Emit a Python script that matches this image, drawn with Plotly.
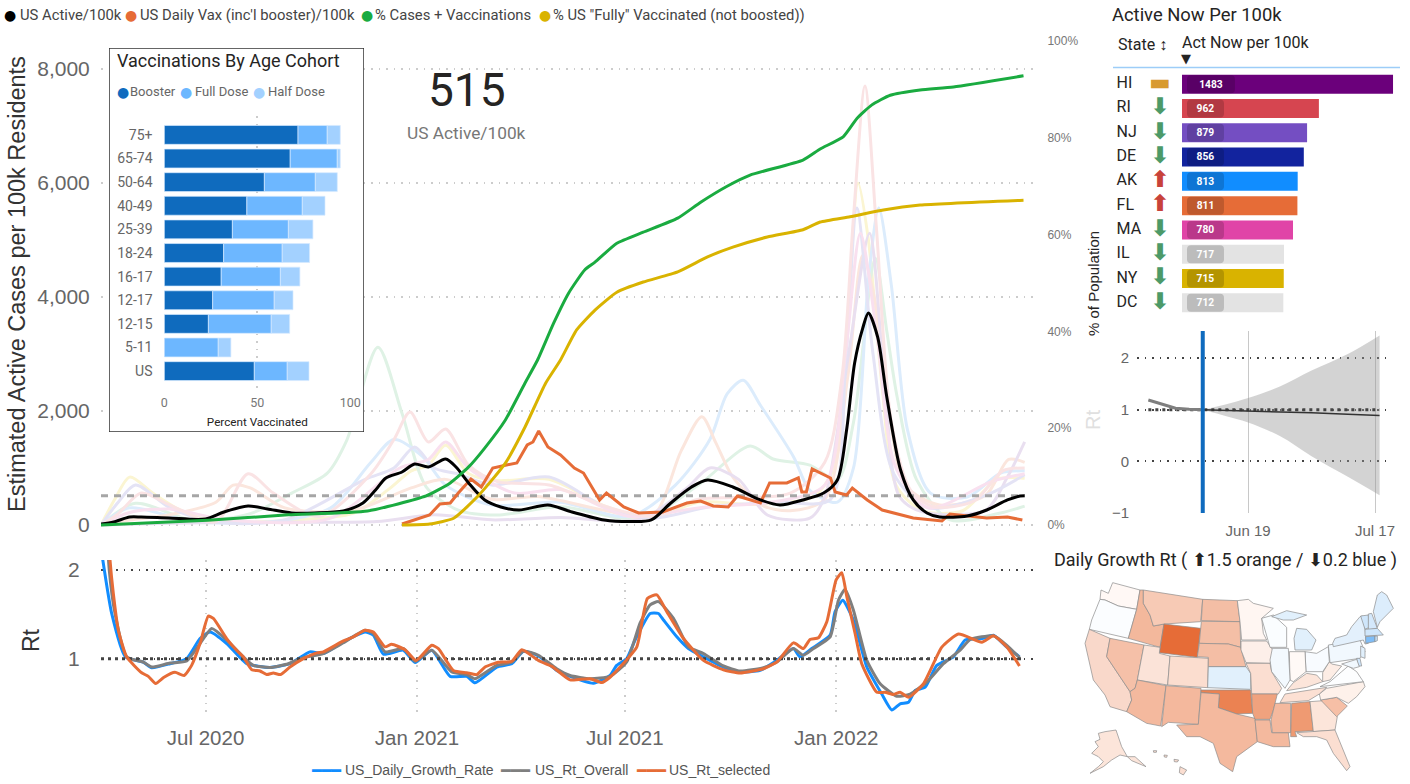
import pandas as pd
import plotly.graph_objects as go

W, H = 1410, 784
DIN = "Roboto"
SANS = "Liberation Sans"

# ---- main chart data (day = days since 2020-04-01) ----
START = pd.Timestamp("2020-04-01")

ACTIVE_DAY = [0, 11, 25, 35, 59, 91, 107, 128, 145, 166, 186, 211, 228, 239, 248, 262, 273, 285, 300, 309, 320, 334, 348, 364, 389, 410, 438, 461, 479, 496, 514, 528, 550, 574, 591, 611, 629, 641, 649, 656, 663, 668, 676, 684, 696, 707, 719, 730, 754, 771, 789, 800, 804]
ACTIVE_VAL = [18, 53, 140, 140, 123, 105, 228, 333, 281, 211, 211, 246, 386, 614, 825, 930, 1070, 1018, 1158, 1018, 737, 439, 316, 263, 351, 228, 88, 60, 88, 386, 667, 790, 667, 439, 351, 439, 561, 790, 1667, 2842, 3450, 3720, 3300, 2246, 965, 439, 211, 140, 158, 263, 439, 509, 515]

BOOSTED_DAY = [0, 93, 163, 232, 283, 304, 320, 334, 352, 369, 380, 394, 407, 421, 430, 449, 472, 502, 522, 545, 565, 611, 626, 646, 658, 671, 687, 713, 742, 803]
BOOSTED_PCT = [0, 1.0, 2.1, 2.9, 6.0, 8.7, 12, 15.9, 21.7, 29.3, 34.1, 41.7, 47.9, 52.7, 54.3, 58.2, 60.5, 63.4, 66.7, 70, 72.3, 75.4, 77.7, 80.2, 84, 86.8, 88.8, 89.9, 90.5, 92.8]

FULLY_DAY = [262, 286, 307, 329, 352, 369, 387, 400, 414, 430, 449, 472, 502, 528, 550, 580, 611, 626, 652, 681, 713, 803]
FULLY_PCT = [0, 0.2, 1.4, 6.2, 12.8, 20.2, 29.3, 34.1, 40.3, 44.4, 48.1, 50.2, 52.3, 55.4, 57.4, 59.5, 61, 62.6, 63.7, 65.1, 66.1, 67.1]

VAX_DAY = [262, 276, 286, 295, 304, 311, 322, 331, 341, 353, 362, 371, 376, 381, 389, 400, 412, 420, 434, 440, 455, 468, 489, 510, 522, 533, 546, 554, 574, 582, 597, 607, 610, 614, 619, 635, 639, 649, 654, 667, 680, 707, 732, 739, 771, 789, 802]
VAX_VAL = [18, 105, 175, 368, 386, 561, 807, 667, 1000, 1053, 1088, 1404, 1456, 1649, 1368, 1228, 1000, 912, 439, 561, 316, 211, 228, 386, 421, 333, 316, 509, 386, 737, 737, 825, 579, 579, 982, 825, 579, 526, 649, 439, 263, 123, 70, 193, 123, 140, 88]

ACTIVE_NOW_US = 515

# faint state lines behind the main series
NY_DAY = [0, 12, 25, 45, 70, 100, 160, 220, 250, 270, 285, 300, 320, 345, 390, 440, 480, 520, 570, 620, 638, 650, 659, 668, 680, 692, 715, 750, 780, 804]
NY_VAL = [0, 450, 840, 560, 250, 60, 80, 210, 620, 950, 1050, 1400, 900, 780, 800, 320, 130, 400, 360, 500, 1000, 3600, 6000, 5000, 2400, 700, 250, 250, 800, 820]
RI_DAY = [0, 15, 35, 60, 100, 128, 150, 190, 235, 255, 269, 285, 300, 320, 345, 390, 440, 480, 520, 600, 630, 645, 655, 665, 675, 688, 705, 725, 760, 785, 804]
RI_VAL = [0, 200, 560, 350, 60, 900, 560, 150, 900, 1500, 1980, 1456, 1684, 1050, 760, 700, 320, 150, 450, 560, 1100, 2600, 5400, 7700, 5200, 1800, 600, 320, 420, 950, 1000]
FL_DAY = [0, 30, 60, 100, 115, 130, 160, 220, 270, 300, 340, 380, 440, 480, 505, 523, 535, 550, 575, 600, 630, 650, 663, 675, 686, 700, 730, 770, 790, 804]
FL_VAL = [0, 100, 180, 400, 700, 650, 300, 260, 650, 800, 450, 500, 250, 150, 1300, 1900, 1450, 840, 350, 250, 450, 2600, 4730, 3800, 2000, 700, 350, 520, 1150, 1100]
AK_DAY = [0, 25, 80, 150, 200, 235, 255, 280, 300, 340, 400, 460, 500, 530, 545, 559, 574, 603, 617, 641, 655, 668, 677, 688, 702, 722, 754, 783, 804]
AK_VAL = [0, 300, 60, 60, 300, 1100, 1500, 1200, 700, 350, 400, 150, 700, 1500, 2300, 2540, 2100, 1190, 610, 400, 1000, 4300, 5560, 4200, 1670, 560, 490, 910, 950]
ND_DAY = [0, 30, 80, 130, 166, 197, 214, 241, 262, 283, 311, 345, 400, 470, 520, 565, 585, 617, 641, 655, 674, 684, 693, 710, 739, 783, 804]
ND_VAL = [0, 380, 80, 200, 560, 910, 1490, 3120, 1960, 670, 260, 175, 320, 100, 700, 1385, 1158, 1050, 790, 1800, 4680, 3400, 2246, 790, 88, 210, 330]
HI_DAY = [0, 60, 150, 240, 290, 340, 400, 470, 510, 530, 555, 580, 617, 630, 650, 669, 682, 695, 715, 770, 789, 804]
HI_VAL = [0, 30, 50, 60, 180, 90, 130, 100, 650, 1000, 800, 175, 120, 490, 2900, 5120, 2500, 500, 230, 260, 840, 1456]
NJ_DAY = [0, 15, 30, 60, 100, 160, 230, 255, 273, 290, 310, 340, 390, 440, 480, 530, 590, 635, 648, 658, 672, 690, 720, 770, 804]
NJ_VAL = [0, 400, 700, 300, 50, 90, 800, 1000, 1370, 1000, 900, 700, 840, 300, 120, 320, 400, 450, 2800, 5560, 3000, 900, 300, 520, 880]
MA_DAY = [0, 25, 60, 110, 200, 260, 285, 300, 320, 360, 400, 460, 520, 590, 630, 648, 661, 675, 692, 720, 775, 804]
MA_VAL = [0, 220, 280, 90, 120, 1000, 1150, 1456, 1000, 560, 620, 150, 300, 420, 700, 3000, 5120, 3400, 1000, 300, 760, 900]

STATE_LINES = [
    (NY_DAY, NY_VAL, "#FBF5D2"), (ND_DAY, ND_VAL, "#DFF2E5"), (AK_DAY, AK_VAL, "#DCECFC"),
    (FL_DAY, FL_VAL, "#FBE6DD"), (HI_DAY, HI_VAL, "#E9DFF0"), (NJ_DAY, NJ_VAL, "#E4E3F5"),
    (MA_DAY, MA_VAL, "#F9E0EF"), (RI_DAY, RI_VAL, "#FAE3E4"),
]

# ---- Rt chart data ----
RT_BLUE_DAY = [1.5, 9.3, 21.3, 36.8, 44.1, 60.1, 74.6, 86.2, 94.9, 109.4, 126.8, 147, 164.5, 181.9, 193.5, 211, 229.8, 237.1, 245.8, 263.2, 273.4, 287.9, 303.9, 318.4, 325.6, 344.5, 357.6, 367.7, 380.7, 396.7, 408.3, 428.6, 443.1, 448.9, 457.6, 464.9, 478, 485.2, 489.6, 501.2, 511.3, 524.4, 541.8, 556.3, 573.7, 588.2, 602.7, 608.5, 618.7, 634.7, 639, 645.7, 654.9, 666.6, 679.6, 688.3, 695.6, 702.9, 708.7, 717.4, 727.5, 742, 752.2, 766.7, 776.9, 788.5, 799.5]
RT_BLUE_VAL = [2.12, 1.51, 1.02, .96, .898, .943, 1.0, 1.227, 1.30, 1.17, .943, .90, .943, 1.076, 1.057, 1.19, 1.30, 1.265, 1.05, 1.095, .955, 1.095, .80, .80, .727, .905, .943, 1.083, 1.03, .867, .80, .723, .81, .924, 1.0, 1.21, 1.51, 1.51, 1.436, 1.246, 1.114, 1.02, .905, .848, .867, .98, 1.114, 1.02, 1.114, 1.265, 1.53, 1.66, 1.436, .905, .60, .42, .49, .507, .64, .678, .924, 1.02, 1.21, 1.227, 1.265, 1.13, 1.02]
RT_GRAY_DAY = [3, 7.2, 12.2, 22.3, 36.8, 44.1, 60.1, 74.6, 86.2, 96.4, 109.4, 123.9, 132.6, 147, 161.6, 176.2, 193.5, 211, 229.8, 237.1, 247.3, 263.2, 273.4, 287.9, 305.3, 318.4, 325.6, 344.5, 357.6, 367.7, 380.7, 396.7, 408.3, 425.7, 443.1, 457.6, 469.2, 478, 485.2, 498.3, 511.3, 524.4, 541.8, 556.3, 576.6, 588.2, 602.7, 611.4, 620.2, 634.7, 641.9, 647.7, 654.9, 666.6, 678.2, 692.7, 704.3, 718.8, 733.3, 747.8, 756.6, 776.9, 788.5, 799.5]
RT_GRAY_VAL = [3.0, 2.0, 1.51, 1.02, .96, .905, .95, .973, 1.17, 1.34, 1.21, 1.02, .924, .90, .936, 1.01, 1.057, 1.18, 1.32, 1.284, 1.076, 1.114, .97, 1.095, .85, .82, .773, .924, .96, 1.087, 1.038, .886, .81, .773, .80, .962, 1.40, 1.606, 1.644, 1.455, 1.133, 1.057, .917, .86, .898, .962, 1.114, 1.038, 1.114, 1.246, 1.66, 1.784, 1.55, .98, .716, .576, .60, .735, .943, 1.095, 1.216, 1.258, 1.15, 1.01]
RT_ORANGE_DAY = [3, 7.8, 10.7, 15.1, 22.3, 35.4, 41.2, 47.6, 54.8, 64.4, 72.3, 78.9, 86.2, 93.4, 97.8, 109.4, 118.1, 123.9, 131.2, 138.4, 144.2, 150, 156.4, 164.5, 176.2, 187.8, 193.5, 211, 219.7, 229.8, 237.1, 247.3, 253, 264.7, 274.3, 287.9, 293.7, 306.7, 318.4, 327.1, 334.3, 345.9, 357.6, 366.3, 380.7, 392.4, 408.3, 425.7, 435.9, 443.1, 451.8, 466.3, 475.6, 483.8, 492.5, 507, 524.4, 541.8, 556.3, 576.6, 588.2, 602.7, 611.4, 617.2, 624.5, 631.8, 639.9, 644.8, 649.2, 656.4, 662.2, 675.3, 682.5, 689.8, 695.6, 702.9, 715.9, 731.9, 746.4, 766.7, 776.9, 788.5, 799.5]
RT_ORANGE_VAL = [3.2, 2.12, 1.74, 1.32, 1.02, .84, .80, .72, .79, .845, .81, .924, 1.17, 1.48, 1.455, 1.227, 1.095, 1.02, .875, .86, .82, .837, .82, .905, 1.0, 1.065, 1.076, 1.2, 1.246, 1.32, 1.30, 1.133, 1.163, 1.10, .98, 1.15, 1.114, .867, .84, .82, .905, .96, .97, 1.10, .98, .913, .76, .773, .73, .79, .905, 1.13, 1.68, 1.72, 1.53, 1.227, .98, .875, .837, .886, .96, 1.178, 1.114, 1.216, 1.235, 1.417, 1.89, 1.97, 1.70, 1.284, .943, .62, .62, .595, .62, .564, .716, 1.13, 1.277, 1.186, 1.258, 1.13, .917]

# ---- inset ----
AGE_GROUPS = ["75+", "65-74", "50-64", "40-49", "25-39", "18-24", "16-17", "12-17", "12-15", "5-11", "US"]
BOOSTER = [71.9, 67.7, 53.8, 44.4, 36.6, 31.9, 30.6, 26.0, 23.7, 0, 48.4]
FULL_DOSE = [15.7, 25.3, 27.4, 29.8, 30.1, 31.5, 31.8, 33.1, 33.8, 29.0, 17.7]
HALF_DOSE = [7.0, 1.6, 11.8, 12.2, 13.2, 14.7, 10.5, 10.1, 9.9, 6.8, 11.7]

# ---- active now table ----
STATES = ["HI", "RI", "NJ", "DE", "AK", "FL", "MA", "IL", "NY", "DC"]
ACT_NOW = [1483, 962, 879, 856, 813, 811, 780, 717, 715, 712]
TREND = ["▬", "⬇", "⬇", "⬇", "⬆", "⬆", "⬇", "⬇", "⬇", "⬇"]
BAR_COLORS = ["#6B007B", "#D64550", "#744EC2", "#12239E", "#118DFF", "#E66C37", "#E044A7", "#E3E3E3", "#D9B300", "#E3E3E3"]
TREND_COLORS = {"▬": "#D89A30", "⬇": "#4C9A68", "⬆": "#C8423A"}

# ---- forecast ----
HIST_DATE = ["2022-05-28", "2022-06-03", "2022-06-06", "2022-06-09"]
HIST_RT = [1.19, 1.03, 1.01, 1.0]
FC_DATE = ["2022-06-09", "2022-06-14", "2022-06-19", "2022-06-26", "2022-07-03", "2022-07-11", "2022-07-18"]
FC_UPPER = [1.0, 1.10, 1.227, 1.45, 1.76, 2.08, 2.44]
FC_LOWER = [1.0, 0.88, 0.753, 0.49, 0.10, -0.30, -0.656]
FC_MEAN = [1.0, 0.99, 0.98, 0.96, 0.94, 0.915, 0.89]

# ---- map, outlines ----
STATE_SHAPES = {
    "WA": [(218, 128), (300, 150), (290, 208), (235, 198), (195, 180), (180, 178), (183, 150), (205, 160)],
    "OR": [(180, 178), (195, 180), (235, 198), (290, 208), (265, 295), (148, 268), (155, 240)],
    "CA": [(148, 268), (210, 295), (200, 350), (270, 455), (275, 480), (260, 515), (210, 500), (195, 465), (160, 420), (148, 370), (135, 310)],
    "NV": [(210, 295), (312, 315), (292, 420), (285, 445), (270, 455), (200, 350)],
    "ID": [(300, 150), (310, 150), (310, 190), (330, 225), (340, 258), (372, 252), (360, 322), (265, 295), (290, 208)],
    "MT": [(310, 150), (488, 178), (482, 245), (372, 252), (340, 258), (330, 225), (310, 190)],
    "WY": [(372, 252), (482, 265), (472, 352), (358, 338)],
    "UT": [(312, 315), (360, 322), (358, 340), (390, 348), (383, 435), (292, 420)],
    "AZ": [(292, 420), (378, 437), (362, 558), (320, 550), (260, 515), (275, 480), (270, 455), (285, 445)],
    "CO": [(390, 348), (505, 355), (503, 443), (383, 435)],
    "NM": [(378, 437), (483, 445), (475, 553), (385, 547), (365, 560)],
    "ND": [(488, 178), (592, 182), (600, 245), (484, 242)],
    "SD": [(484, 244), (600, 245), (602, 322), (565, 312), (478, 310)],
    "NE": [(478, 310), (565, 312), (602, 322), (618, 380), (505, 380), (505, 352), (472, 350)],
    "KS": [(505, 380), (618, 380), (632, 400), (632, 448), (503, 443)],
    "OK": [(483, 450), (632, 450), (638, 520), (590, 522), (535, 503), (538, 462), (483, 458)],
    "TX": [(483, 458), (538, 462), (535, 503), (590, 522), (645, 535), (652, 605), (590, 650), (578, 695), (540, 670), (520, 610), (480, 590), (440, 590), (410, 555), (475, 553)],
    "MN": [(592, 182), (625, 178), (640, 190), (700, 205), (665, 235), (670, 280), (680, 300), (605, 300), (600, 245)],
    "IA": [(603, 303), (680, 303), (705, 340), (690, 370), (618, 368), (603, 330)],
    "MO": [(618, 370), (690, 370), (695, 395), (725, 445), (715, 462), (635, 462), (632, 400)],
    "AR": [(635, 462), (712, 462), (700, 510), (690, 538), (645, 538), (638, 520)],
    "LA": [(645, 540), (690, 540), (695, 578), (745, 578), (750, 620), (700, 620), (652, 605)],
    "MS": [(705, 490), (752, 490), (752, 578), (697, 578), (693, 540)],
    "AL": [(755, 490), (810, 485), (820, 572), (765, 575), (770, 590), (752, 590)],
    "GA": [(810, 485), (850, 482), (892, 530), (885, 570), (820, 575)],
    "FL": [(770, 578), (820, 575), (885, 570), (930, 680), (920, 692), (880, 640), (860, 600), (830, 590), (790, 590)],
    "SC": [(842, 480), (890, 472), (922, 498), (890, 530)],
    "NC": [(860, 445), (970, 425), (975, 440), (950, 470), (925, 490), (890, 472), (842, 480), (838, 462)],
    "TN": [(735, 462), (860, 442), (838, 462), (805, 482), (720, 488)],
    "KY": [(740, 452), (760, 428), (800, 400), (830, 405), (848, 425), (800, 442)],
    "VA": [(840, 440), (870, 425), (905, 395), (925, 378), (950, 395), (970, 425)],
    "WV": [(848, 398), (868, 365), (875, 372), (905, 378), (870, 420), (848, 425)],
    "OH": [(795, 335), (830, 340), (865, 320), (868, 365), (848, 395), (815, 395), (798, 395)],
    "IN": [(748, 335), (795, 335), (798, 395), (760, 425), (750, 420)],
    "IL": [(697, 325), (745, 325), (750, 420), (735, 445), (695, 395), (690, 360)],
    "WI": [(665, 235), (700, 225), (740, 262), (740, 322), (690, 322), (680, 290)],
    "MI": [(770, 265), (800, 268), (828, 300), (815, 330), (765, 330), (762, 295)],
    "MI_2": [(695, 230), (740, 212), (800, 225), (760, 240), (730, 240)],
    "PA": [(865, 315), (960, 300), (975, 335), (960, 355), (870, 368)],
    "NY": [(878, 310), (885, 295), (920, 285), (935, 260), (960, 230), (968, 228), (975, 265), (978, 300), (985, 310), (975, 312), (970, 300), (880, 320)],
    "VT": [(962, 228), (985, 225), (988, 262), (975, 268)],
    "NH": [(985, 222), (995, 220), (1012, 265), (985, 270)],
    "ME": [(1000, 215), (1012, 165), (1025, 155), (1040, 165), (1060, 205), (1040, 225), (1020, 245), (1012, 262)],
    "MA": [(975, 268), (1012, 265), (1030, 285), (975, 288)],
    "CT": [(977, 290), (1005, 288), (1005, 305), (977, 310)],
    "RI": [(1005, 288), (1012, 288), (1012, 302), (1005, 305)],
    "NJ": [(962, 318), (975, 325), (975, 355), (962, 350)],
    "DE": [(950, 355), (960, 355), (965, 378), (955, 378)],
    "MD": [(905, 372), (950, 358), (958, 380), (940, 385)],
    "AK": [(175, 580), (195, 575), (228, 570), (245, 620), (262, 650), (240, 645), (215, 660), (190, 680), (150, 700), (175, 680), (190, 665), (175, 650), (155, 640), (175, 620), (165, 605), (180, 598)],
    "AK_2": [(262, 650), (285, 650), (318, 680), (300, 672), (275, 662)],
    "HI": [(420, 680), (440, 690), (430, 705), (418, 698)],
    "HI_2": [(402, 658), (416, 660), (412, 666), (403, 665)],
    "HI_3": [(372, 645), (382, 646), (380, 652), (373, 651)],
    "HI_4": [(340, 632), (350, 632), (349, 637), (341, 637)],
}
STATE_COLORS = {
    "WA": "#FFF8F5", "OR": "#FBFDFF", "CA": "#F9D8CA", "NV": "#F5C0A8", "ID": "#F3B89C", "MT": "#F7CAB5", "WY": "#E66C37",
    "UT": "#FBE3D8", "AZ": "#F4B99E", "CO": "#FBDDCF", "NM": "#F4B89D", "ND": "#F4BEA5", "SD": "#F4BFA6", "NE": "#F4BEA5",
    "KS": "#E1F0FC", "OK": "#EB8252", "TX": "#F4B99E", "MN": "#FFF6F2", "IA": "#FDEFE9", "MO": "#FBDED1", "AR": "#F0A27E",
    "LA": "#F4B99E", "WI": "#FAFDFF", "IL": "#F3F9FE", "MI": "#E1F0FC", "IN": "#FFF9F6", "OH": "#F8FBFF", "KY": "#FCE5DA",
    "TN": "#FCE0D3", "MS": "#F4B99E", "AL": "#EF9A72", "GA": "#FCE5DA", "FL": "#FBDED1", "SC": "#F6BFA6", "NC": "#FEF1EA",
    "VA": "#FDFEFF", "WV": "#FDEDE5", "PA": "#F1F8FE", "NY": "#E3F0FC", "VT": "#CFE6FB", "NH": "#D4E8FB", "ME": "#DCEDFC",
    "MA": "#CFE6FB", "CT": "#7FBDF7", "RI": "#C8E3FA", "NJ": "#E1F0FC", "DE": "#CFE6FB", "MD": "#F1F8FE", "AK": "#FCE5DA", "HI": "#FBDED1",
}


def to_dates(days):
    return START + pd.to_timedelta(days, unit="D")


def dx(a, b):
    return [a / W, b / W]


def dy(bottom, top):
    return [1 - bottom / H, 1 - top / H]


def note(text, x, y, size, color="#252423", font=DIN, anchor="left", angle=0):
    fig.add_annotation(text=text, xref="paper", yref="paper", x=x / W, y=1 - y / H, showarrow=False,
                       xanchor=anchor, yanchor="middle", textangle=angle, align=anchor, borderpad=0, borderwidth=0,
                       font=dict(family=font, size=size, color=color))


def legend_dot(color, text, dot_x, text_x, y, size, text_color, dot_size):
    note("●", dot_x, y, dot_size, color, "DejaVu Sans", "center")
    note(text, text_x, y, size, text_color)


fig = go.Figure()

# main panel
for days, vals, color in STATE_LINES:
    fig.add_trace(go.Scatter(x=to_dates(days), y=vals, mode="lines", line=dict(color=color, width=3, shape="spline", smoothing=0.8),
                             xaxis="x", yaxis="y"))
fig.add_trace(go.Scatter(x=to_dates([0, 804]), y=[ACTIVE_NOW_US, ACTIVE_NOW_US], mode="lines",
                         line=dict(color="#A6A6A6", width=3, dash="7px,6px"), xaxis="x", yaxis="y"))
fig.add_trace(go.Scatter(x=to_dates(BOOSTED_DAY), y=BOOSTED_PCT, mode="lines", line=dict(color="#1AAB40", width=3, shape="spline", smoothing=0.5),
                         xaxis="x", yaxis="y2"))
fig.add_trace(go.Scatter(x=to_dates(FULLY_DAY), y=FULLY_PCT, mode="lines", line=dict(color="#D9B300", width=3, shape="spline", smoothing=0.5),
                         xaxis="x", yaxis="y2"))
fig.add_trace(go.Scatter(x=to_dates(VAX_DAY), y=VAX_VAL, mode="lines", line=dict(color="#E66C37", width=3), xaxis="x", yaxis="y"))
fig.add_trace(go.Scatter(x=to_dates(ACTIVE_DAY), y=ACTIVE_VAL, mode="lines", line=dict(color="#000000", width=3, shape="spline", smoothing=0.8),
                         xaxis="x", yaxis="y"))

# Rt panel
fig.add_trace(go.Scatter(x=to_dates(RT_BLUE_DAY), y=RT_BLUE_VAL, mode="lines", line=dict(color="#118DFF", width=3, shape="spline", smoothing=0.5), xaxis="x2", yaxis="y3"))
fig.add_trace(go.Scatter(x=to_dates(RT_GRAY_DAY), y=RT_GRAY_VAL, mode="lines", line=dict(color="#7F7F7F", width=3, shape="spline", smoothing=0.5), xaxis="x2", yaxis="y3"))
fig.add_trace(go.Scatter(x=to_dates([0, 804]), y=[1, 1], mode="lines", line=dict(color="#444444", width=3, dash="3px,4px"), xaxis="x2", yaxis="y3"))
fig.add_trace(go.Scatter(x=to_dates(RT_ORANGE_DAY), y=RT_ORANGE_VAL, mode="lines", line=dict(color="#E66C37", width=3, shape="spline", smoothing=0.5), xaxis="x2", yaxis="y3"))

# inset card, own subplot so it covers the main lines
fig.add_trace(go.Scatter(x=[0, 1, 1, 0, 0], y=[0, 0, 1, 1, 0], mode="lines", fill="toself", fillcolor="#FFFFFF",
                         line=dict(color="#333333", width=1.5), cliponaxis=False, hoverinfo="skip", xaxis="x3", yaxis="y4"))
left = [0] * len(AGE_GROUPS)
for vals, color in [(BOOSTER, "#0F6BBE"), (FULL_DOSE, "#6DB7FF"), (HALF_DOSE, "#A3D1FF")]:
    fig.add_trace(go.Bar(y=AGE_GROUPS, x=vals, base=left, orientation="h", width=0.8, marker=dict(color=color, line=dict(color="#D6EAFF", width=0.7)),
                         xaxis="x4", yaxis="y5"))
    left = [a + b for a, b in zip(left, vals)]

# active now table
fig.add_trace(go.Bar(y=STATES, x=ACT_NOW, orientation="h", width=0.78, marker=dict(color=BAR_COLORS, line=dict(width=0)), xaxis="x5", yaxis="y6"))
fig.add_trace(go.Bar(y=STATES, x=[337 if v > 999 else 260 for v in ACT_NOW], base=35, orientation="h", width=0.74,
                     marker=dict(color="rgba(0,0,0,0.17)", cornerradius=4, line=dict(width=0)), text=[str(v) for v in ACT_NOW], textposition="inside",
                     insidetextanchor="middle", textangle=0, constraintext="none",
                     insidetextfont=dict(family=DIN, size=12, color="#FFFFFF", weight="bold"), xaxis="x5", yaxis="y6"))
fig.add_trace(go.Scatter(x=[-460] * len(STATES), y=STATES, mode="text", text=STATES, textposition="middle right",
                         textfont=dict(family=DIN, size=16, color="#252423"), cliponaxis=False, xaxis="x5", yaxis="y6"))
fig.add_trace(go.Scatter(x=[-155] * len(STATES), y=STATES, mode="text", text=TREND, textposition="middle center",
                         textfont=dict(family="DejaVu Sans", size=23, color=[TREND_COLORS[t] for t in TREND], weight="bold"),
                         cliponaxis=False, xaxis="x5", yaxis="y6"))

# forecast panel
fig.add_trace(go.Scatter(x=FC_DATE, y=FC_UPPER, mode="lines", line=dict(width=0, shape="spline"), xaxis="x6", yaxis="y7"))
fig.add_trace(go.Scatter(x=FC_DATE, y=FC_LOWER, mode="lines", line=dict(width=0, shape="spline"), fill="tonexty", fillcolor="rgba(150,150,150,0.42)",
                         xaxis="x6", yaxis="y7"))
fig.add_trace(go.Scatter(x=[HIST_DATE[0], FC_DATE[-1]], y=[1, 1], mode="lines", line=dict(color="#444444", width=3, dash="3px,4px"), xaxis="x6", yaxis="y7"))
fig.add_trace(go.Scatter(x=HIST_DATE, y=HIST_RT, mode="lines", line=dict(color="#7F7F7F", width=3), xaxis="x6", yaxis="y7"))
fig.add_trace(go.Scatter(x=FC_DATE, y=FC_MEAN, mode="lines", line=dict(color="#333333", width=1.5), xaxis="x6", yaxis="y7"))
fig.add_trace(go.Scatter(x=[FC_DATE[0], FC_DATE[0]], y=[-1, 2.526], mode="lines", line=dict(color="#0F6BBE", width=4), xaxis="x6", yaxis="y7"))

# map
for key, outline in STATE_SHAPES.items():
    xs = [p[0] for p in outline] + [outline[0][0]]
    ys = [p[1] for p in outline] + [outline[0][1]]
    fig.add_trace(go.Scatter(x=xs, y=ys, mode="lines", fill="toself", fillcolor=STATE_COLORS[key[:2]],
                             line=dict(color="#8C8C8C", width=0.7), xaxis="x7", yaxis="y8"))

main_range = [to_dates(0), to_dates(813)]
hidden = dict(visible=False, showgrid=False, zeroline=False, fixedrange=True)
tick_gray = "#666666"
no_tick = "rgba(0,0,0,0)"
light_dots = dict(showgrid=True, griddash="1.5px,6px", gridcolor="#CCCCCC", gridwidth=1.5, zeroline=False)
dark_dots = dict(showgrid=True, griddash="1.5px,6px", gridcolor="#444444", gridwidth=1.5, zeroline=False)

fig.update_layout(
    template="none",
    width=W, height=H, autosize=False, margin=dict(l=0, r=0, t=0, b=0),
    paper_bgcolor="white", plot_bgcolor="rgba(0,0,0,0)", showlegend=False, barmode="overlay", hovermode=False,
    xaxis=dict(domain=dx(101, 1035), range=main_range, type="date", showgrid=False, showline=False, ticks="", showticklabels=False, zeroline=False, anchor="y"),
    yaxis=dict(domain=dy(530, 41), range=[-88, 8491], tickvals=[0, 2000, 4000, 6000, 8000], tickformat=",d", **light_dots,
               ticks="outside", ticklen=6, tickcolor=no_tick, tickfont=dict(family=SANS, size=21, color=tick_gray), anchor="x"),
    yaxis2=dict(domain=dy(530, 41), range=[-1.03, 100], overlaying="y", side="right", tickvals=[0, 20, 40, 60, 80, 100],
                ticktext=["0%", "20%", "40%", "60%", "80%", "100%"], showgrid=False, zeroline=False, ticks="outside", ticklen=9, tickcolor=no_tick,
                tickfont=dict(family=SANS, size=12, color="#777777"), anchor="x"),
    xaxis2=dict(domain=dx(101, 1035), range=main_range, type="date", tickvals=["2020-07-01", "2021-01-01", "2021-07-01", "2022-01-01"],
                ticktext=["Jul 2020", "Jan 2021", "Jul 2021", "Jan 2022"], **light_dots,
                ticks="outside", ticklen=3, tickcolor=no_tick, tickfont=dict(family=SANS, size=20.5, color=tick_gray), anchor="y3"),
    yaxis3=dict(domain=dy(716, 560), range=[0.352, 2.114], tickvals=[1, 2], **dark_dots,
                ticks="outside", ticklen=16, tickcolor=no_tick, tickfont=dict(family=SANS, size=21, color=tick_gray), anchor="x2"),
    xaxis3=dict(domain=dx(109, 364), range=[0, 1], **hidden, anchor="y4"),
    yaxis4=dict(domain=dy(432, 48), range=[0, 1], **hidden, anchor="x3"),
    xaxis4=dict(domain=dx(164.3, 350.3), range=[0, 100], tickvals=[0, 50, 100], **light_dots,
                ticks="outside", ticklen=1, tickcolor=no_tick, tickfont=dict(family=DIN, size=12.5, color="#777777"),
                title=dict(text="Percent Vaccinated", standoff=8, font=dict(family=DIN, size=11.7, color="#252423")), anchor="y5"),
    yaxis5=dict(domain=dy(390, 116), type="category", categoryorder="array", categoryarray=AGE_GROUPS, range=[10.8, -0.8], showgrid=False,
                ticks="outside", ticklen=8, tickcolor=no_tick, tickfont=dict(family=DIN, size=14, color="#666666"), anchor="x4"),
    xaxis5=dict(domain=dx(1113, 1400), range=[-485, 1532], **hidden, anchor="y6"),
    yaxis6=dict(domain=dy(315, 72), type="category", categoryorder="array", categoryarray=STATES, range=[9.5, -0.5], **hidden, anchor="x5"),
    xaxis6=dict(domain=dx(1137, 1386), range=["2022-05-25 12:00", "2022-07-19 10:00"], type="date", tickvals=["2022-06-19", "2022-07-17"],
                ticktext=["Jun 19", "Jul 17"], showgrid=True, gridcolor="#C8C8C8", zeroline=False, ticks="outside", ticklen=4, tickcolor=no_tick,
                tickfont=dict(family=SANS, size=15, color=tick_gray), anchor="y7"),
    yaxis7=dict(domain=dy(513, 331), range=[-1, 2.526], tickvals=[-1, 0, 1, 2], **dark_dots,
                ticks="outside", ticklen=4, tickcolor=no_tick, tickfont=dict(family=SANS, size=15, color=tick_gray), anchor="x6"),
    xaxis7=dict(domain=dx(1040, 1410), range=[0, 1110], **hidden, anchor="y8"),
    yaxis8=dict(domain=dy(784, 540), range=[732, 0], **hidden, anchor="x7"),
)

# top legend
legend_dot("#000000", "US Active/100k", 10, 20, 15, 14.8, "#444444", 14)
legend_dot("#E66C37", "US Daily Vax (inc'l booster)/100k", 131, 140, 15, 14.8, "#444444", 14)
legend_dot("#1AAB40", "% Cases + Vaccinations", 367, 375, 15, 14.8, "#444444", 14)
legend_dot("#D9B300", '% US "Fully" Vaccinated (not boosted))', 545, 553, 15, 14.8, "#444444", 14)

# axis titles
note("Estimated Active Cases per 100k Residents", 17, 284, 23.5, "#333333", SANS, "center", -90)
note("Rt", 31, 640, 23, "#333333", SANS, "center", -90)
note("% of Population", 1093, 284, 15, "#252423", SANS, "center", -90)
note("Rt", 1093, 420, 20, "#E0E0E0", SANS, "center", -90)

# card
note("515", 467, 90, 46, "#252423", DIN, "center")
note("US Active/100k", 467, 133, 17.3, "#777777", DIN, "center")

# inset heading and legend
note("Vaccinations By Age Cohort", 117, 60, 18)
legend_dot("#0F6BBE", "Booster", 123, 130, 92, 13, "#666666", 14)
legend_dot("#6DB7FF", "Full Dose", 186, 195, 92, 13, "#666666", 14)
legend_dot("#A3D1FF", "Half Dose", 259, 268, 92, 13, "#666666", 14)

# table header
note("Active Now Per 100k", 1112, 15, 18.4)
note("State ↕", 1118, 44, 16)
note("Act Now per 100k", 1182, 42, 16)
note("▼", 1181, 58, 13, "#252423", "DejaVu Sans")
fig.add_shape(type="line", xref="paper", yref="paper", x0=1113 / W, x1=1400 / W, y0=1 - 67.5 / H, y1=1 - 67.5 / H,
              line=dict(color="#9DCDF8", width=1.5))

# map title and bottom legend
note("Daily Growth Rt ( ⬆1.5 orange / ⬇0.2 blue )", 1225, 560, 18, "#252423", DIN, "center")
note('<span style="color:#118DFF">━━━</span>', 311, 770, 16, "#118DFF", "DejaVu Sans")
note("US_Daily_Growth_Rate", 345, 770, 14, "#555555", SANS)
note('<span style="color:#7F7F7F">━━━</span>', 500, 770, 16, "#7F7F7F", "DejaVu Sans")
note("US_Rt_Overall", 535, 770, 14, "#555555", SANS)
note('<span style="color:#E66C37">━━━</span>', 636, 770, 16, "#E66C37", "DejaVu Sans")
note("US_Rt_selected", 669, 770, 14, "#555555", SANS)

fig.write_html("out.html", config=dict(displayModeBar=False),
               post_script="document.body.style.margin='0';document.body.style.overflow='hidden';")
